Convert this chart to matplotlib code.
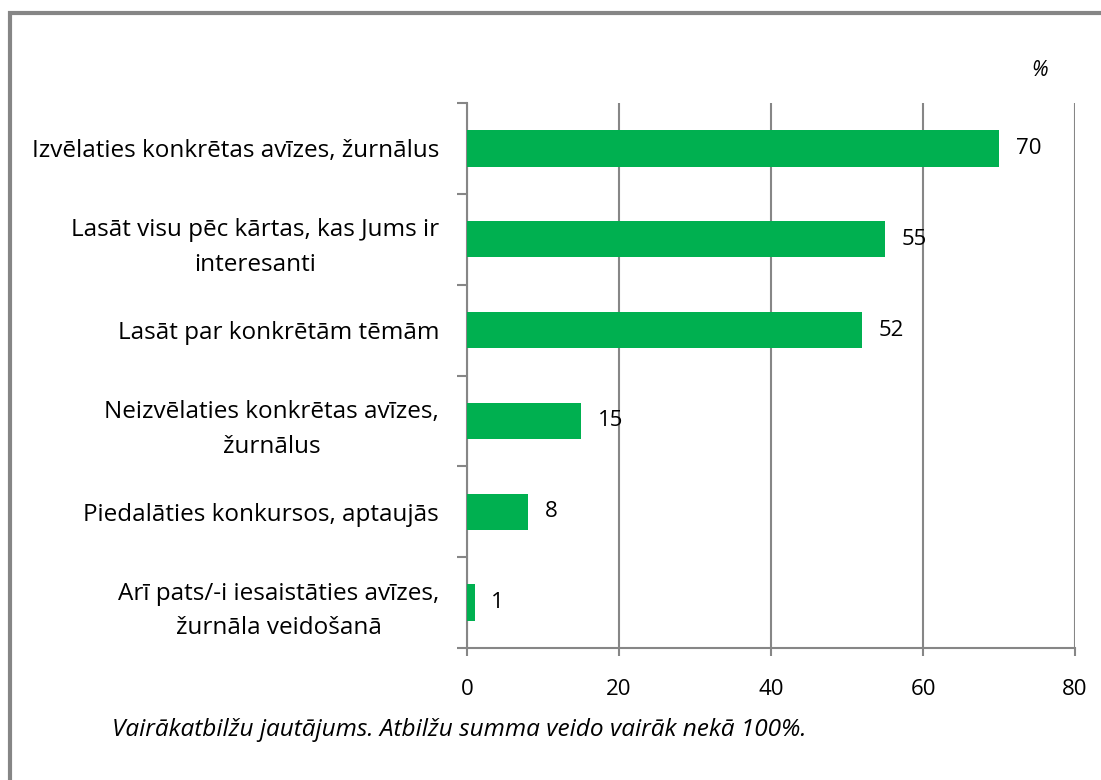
import matplotlib
matplotlib.use("Agg")
import matplotlib.pyplot as plt
from matplotlib.patches import Rectangle

plt.rcParams['font.family'] = ['Open Sans', 'DejaVu Sans']

categories = [
    "Izvēlaties konkrētas avīzes, žurnālus",
    "Lasāt visu pēc kārtas, kas Jums ir\ninteresanti",
    "Lasāt par konkrētām tēmām",
    "Neizvēlaties konkrētas avīzes,\nžurnālus",
    "Piedalāties konkursos, aptaujās",
    "Arī pats/-i iesaistāties avīzes,\nžurnāla veidošanā",
]
values = [70, 55, 52, 15, 8, 1]
xticks = [0, 20, 40, 60, 80]
footnote = "Vairākatbilžu jautājums. Atbilžu summa veido vairāk nekā 100%."

bar_color = "#00B050"
grid_color = "#868686"

fig = plt.figure(figsize=(11.01, 7.80), dpi=100)
W, H = 1101, 780
ax = fig.add_axes([467 / W, 1 - 648 / H, (1075 - 467) / W, (648 - 103) / H])

pos = list(range(len(categories)))
ax.barh(pos, values, height=0.4, color=bar_color, zorder=3)
ax.set_ylim(len(categories) - 0.5, -0.5)
ax.set_xlim(0, 80)

for p, v in zip(pos, values):
    ax.annotate(str(v), (v, p), xytext=(12, 0), textcoords="offset points",
                va="center", ha="left", fontsize=16, color="black")

ax.set_xticks(xticks)
ax.set_xticklabels([str(t) for t in xticks], fontsize=16)
ax.xaxis.grid(True, color=grid_color, linewidth=1.5, zorder=0)
ax.tick_params(axis="x", length=6, width=1.5, color=grid_color, pad=16)

# y tick marks at category boundaries, labels at centres
ax.set_yticks([p - 0.5 for p in pos] + [len(categories) - 0.5])
ax.set_yticklabels([])
ax.set_yticks(pos, minor=True)
ax.set_yticklabels(categories, minor=True, fontsize=17.5, ha="right",
                   multialignment="center", linespacing=1.6)
ax.tick_params(axis="y", which="major", length=7, width=1.5, color=grid_color)
ax.tick_params(axis="y", which="minor", length=0, pad=20)

for s in ["top", "right"]:
    ax.spines[s].set_visible(False)
for s in ["left", "bottom"]:
    ax.spines[s].set_color(grid_color)
    ax.spines[s].set_linewidth(1.5)

fig.text(1040 / W, 1 - 70 / H, "%", fontsize=15, style="italic", ha="center", va="center")
fig.text(112 / W, 1 - 730 / H, footnote, fontsize=17.6, style="italic", ha="left", va="center")

fig.patches.append(Rectangle((10 / W, -0.1), 1.2, 1 - 13 / H + 0.1, transform=fig.transFigure,
                             fill=False, edgecolor=grid_color, linewidth=3))

fig.savefig("out.png", dpi=100)
